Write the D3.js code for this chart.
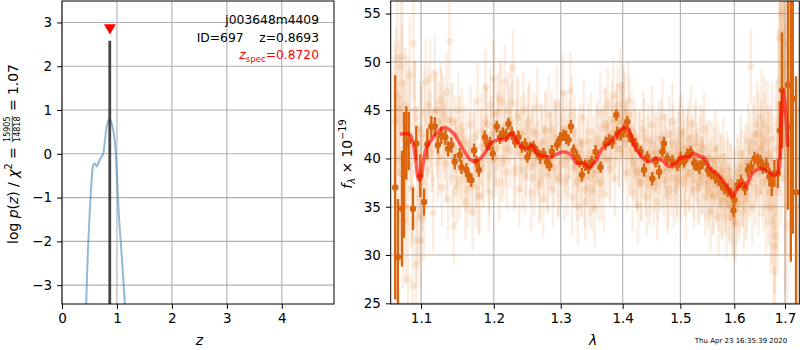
<!DOCTYPE html>
<html>
<head>
<meta charset="utf-8">
<script src="https://cdn.jsdelivr.net/npm/d3@7"></script>
<style>
  body { margin: 0; background: #fff; }
  text { font-family: "DejaVu Sans", sans-serif; white-space: pre; }
</style>
</head>
<body>
<svg id="chart" width="800" height="350"></svg>
<script>
// ---------- data: redshift probability panel ----------
const zTicks = [0, 1, 2, 3, 4];
const logpTicks = [-3, -2, -1, 0, 1, 2, 3];
const pzZ =    [0.40, 0.44, 0.46, 0.48, 0.51, 0.54, 0.57, 0.60, 0.63, 0.66, 0.70, 0.75, 0.78, 0.82, 0.86, 0.89, 0.93, 0.96, 1.00, 1.02, 1.05, 1.085, 1.115, 1.145, 1.17];
const pzLogp = [-4.6, -3.43, -2.6, -2.0, -1.2, -0.6, -0.25, -0.22, -0.29, -0.22, -0.1, 0.0, 0.3, 0.65, 0.80, 0.75, 0.55, 0.30, -0.50, -1.07, -1.7, -2.28, -2.85, -3.43, -3.9];
const zBest = 0.8693;
const zBestTop = 2.58;
const zSpec = 0.8720;
const zSpecMarkY = 2.88;
const labelLines = ["j003648m4409", "ID=697    z=0.8693"];

// ---------- data: spectrum panel ----------
const lamTicks = [1.1, 1.2, 1.3, 1.4, 1.5, 1.6, 1.7];
const fluxTicks = [25, 30, 35, 40, 45, 50, 55];

// best-fit template [lambda, flux]
const modelLine = [
  [1.0726,42.5],[1.0856,42.45],[1.0978,37.75],[1.1075,41.2],[1.1163,42.2],[1.1311,43.2],[1.1434,42.6],
  [1.1549,41.2],[1.1665,39.9],[1.1759,39.75],[1.1852,40.35],[1.1972,41.7],[1.2091,41.95],[1.2188,42.05],
  [1.2262,42.6],[1.2325,41.9],[1.2410,41.2],[1.2485,41.0],[1.2560,41.4],[1.2635,40.5],[1.2735,40.25],
  [1.2838,40.15],[1.2941,40.45],[1.3044,40.7],[1.3148,40.45],[1.3255,39.5],[1.3360,39.55],[1.3439,39.1],
  [1.3548,39.65],[1.3657,41.0],[1.3766,41.55],[1.3876,42.2],[1.3988,43.1],[1.4089,43.1],[1.4183,41.55],
  [1.4328,40.15],[1.4441,39.65],[1.4557,40.0],[1.4676,39.8],[1.4792,39.2],[1.4910,39.5],[1.5031,40.15],
  [1.5150,40.15],[1.5241,40.5],[1.5333,40.25],[1.5425,40.1],[1.5549,38.95],[1.5703,38.25],[1.5863,37.05],
  [1.5970,36.05],[1.6054,36.9],[1.6151,37.4],[1.6214,37.05],[1.6345,38.45],[1.6509,38.95],[1.6642,38.7],
  [1.6774,38.25],[1.6855,38.5],[1.6924,43.95],[1.6965,47.05],[1.7010,45.0],[1.7058,41.2]
];

// binned spectrum [lambda, flux, error]
const binned = [
  [1.0665,37.0,11.6],[1.0700,29.8,6.0],[1.0752,34.8,6.0],[1.0778,38.3,6.5],[1.0808,41.6,3.8],[1.0839,41.8,3.0],
  [1.0895,34.8,2.2],[1.0938,41.55,1.8],[1.0990,38.2,2.2],[1.1040,35.5,1.4],[1.1083,41.5,1.6],[1.1136,43.3,1.1],
  [1.1182,43.3,1.0],[1.1225,41.4,0.9],[1.1270,42.4,0.9],[1.1325,42.2,0.8],[1.1361,41.0,0.8],[1.1406,41.4,0.8],
  [1.1452,39.65,0.8],[1.1521,40.35,0.7],[1.1544,39.1,0.7],[1.1613,38.8,0.7],[1.1637,38.3,0.8],[1.1682,37.75,0.7],
  [1.1721,40.85,0.7],[1.1753,39.65,0.6],[1.1787,38.8,0.7],[1.1872,42.2,0.7],[1.1909,41.4,0.6],[1.1945,41.55,0.7],
  [1.1985,40.5,0.7],[1.2043,43.3,0.6],[1.2091,42.2,0.7],[1.2130,42.6,0.6],[1.2179,42.4,0.7],[1.2212,43.6,0.6],
  [1.2262,42.6,0.7],[1.2311,41.7,0.6],[1.2359,42.2,0.7],[1.2410,41.2,0.6],[1.2458,41.4,0.7],[1.2493,40.15,0.6],
  [1.2533,41.0,0.7],[1.2583,41.2,0.6],[1.2635,40.7,0.6],[1.2685,40.15,0.7],[1.2735,40.5,0.6],[1.2787,39.65,0.7],
  [1.2826,39.3,0.6],[1.2863,40.7,0.7],[1.2941,41.4,0.6],[1.2992,42.05,0.7],[1.3044,42.4,0.6],[1.3085,42.2,0.7],
  [1.3122,41.9,0.6],[1.3160,43.3,0.7],[1.3201,40.85,0.6],[1.3255,40.15,0.7],[1.3296,39.65,0.6],[1.3334,38.3,0.7],
  [1.3387,39.3,0.6],[1.3439,39.1,0.7],[1.3494,39.65,0.6],[1.3553,40.7,0.7],[1.3634,39.1,0.6],[1.3716,41.55,0.7],
  [1.3772,41.9,0.6],[1.3826,41.7,0.7],[1.3893,44.5,0.6],[1.3910,42.6,0.7],[1.3965,42.4,0.6],[1.4021,42.9,0.7],
  [1.4077,43.8,0.6],[1.4106,42.4,0.7],[1.4162,41.9,0.6],[1.4218,41.4,0.7],[1.4303,40.7,0.6],[1.4362,38.8,0.7],
  [1.4418,40.15,0.6],[1.4505,37.9,0.7],[1.4563,39.65,0.6],[1.4623,38.6,0.7],[1.4680,40.7,0.6],[1.4709,41.55,0.7],
  [1.4768,40.0,0.6],[1.4857,39.65,0.7],[1.4947,39.3,0.6],[1.5005,40.0,0.7],[1.5067,39.65,0.6],[1.5127,40.35,0.7],
  [1.5186,40.7,0.6],[1.5248,39.5,0.7],[1.5285,39.3,0.6],[1.5345,39.1,0.7],[1.5406,39.5,0.6],[1.5499,38.8,0.7],
  [1.5561,38.45,0.6],[1.5636,38.1,0.7],[1.5699,37.75,0.6],[1.5749,37.4,0.7],[1.5812,36.9,0.6],[1.5874,36.7,0.7],
  [1.5939,36.4,0.6],[1.5985,34.6,0.7],[1.6001,35.7,0.7],[1.6065,37.25,0.6],[1.6131,37.6,0.7],[1.6209,36.9,0.7],
  [1.6260,38.8,0.7],[1.6325,39.1,0.7],[1.6390,40.0,0.7],[1.6454,39.8,0.7],[1.6509,39.65,0.7],[1.6553,39.1,0.7],
  [1.6621,39.3,0.8],[1.6686,38.1,1.0],[1.6733,37.4,1.3],[1.6786,38.45,1.4],[1.6854,38.45,1.5],[1.6895,42.9,3.0],
  [1.6939,47.05,6.0],[1.7058,47.6,12.9],[1.7118,43.3,14.0],[1.7159,46.2,14.0],[1.7226,36.5,12.0]
];

// individual unbinned pixels, first exposure [lambda, flux, error]
const pixelsA = [
  [1.066,44.0,8],[1.069,50.4,7],[1.071,45.2,7],[1.073,38.5,8],[1.075,47.8,6],[1.076,50.5,7],[1.078,41.0,7],
  [1.080,35.0,8],[1.082,44.5,6],[1.083,27.5,7],[1.085,48.6,6],[1.087,36.8,6],[1.089,26.8,7],[1.090,51.9,6],
  [1.092,44.2,6],[1.093,29.0,5],[1.095,40.5,5],[1.097,34.0,5],[1.099,43.0,5],[1.100,31.5,5],[1.102,37.5,5],
  [1.104,44.8,4.5],[1.106,47.9,4.5],[1.108,38.7,4],[1.110,42.0,4],[1.112,48.2,4],[1.114,40.5,4],[1.116,34.4,4],
  [1.118,48.8,4],[1.120,45.0,4],[1.122,39.5,4],[1.124,43.8,4],[1.126,46.0,4],[1.128,37.0,4],[1.130,44.5,4],
  [1.132,41.8,4],[1.134,46.9,4],[1.136,35.8,4],[1.138,52.1,4],[1.140,44.0,4],[1.142,38.0,4],[1.144,33.0,4],
  [1.146,42.5,4],[1.148,40.2,4],[1.150,45.0,4],[1.152,37.8,4],[1.155,43.2,4],[1.157,39.0,4],[1.160,35.5,4],
  [1.162,41.5,4],[1.165,38.2,4],[1.167,43.5,4],[1.170,34.5,4],[1.172,40.8,4],[1.175,37.0,4],[1.177,46.0,4],
  [1.180,36.2,4],[1.183,42.8,4],[1.185,38.9,4],[1.188,47.3,4],[1.190,43.5,4],[1.193,36.5,4],[1.195,45.5,4],
  [1.198,39.8,4],[1.200,48.3,4],[1.203,41.0,4],[1.206,44.8,4],[1.208,37.5,4],[1.211,45.8,4],[1.214,40.0,4],
  [1.216,47.9,4],[1.219,38.6,4],[1.222,43.5,4],[1.225,45.8,4],[1.228,49.4,4],[1.231,39.0,4],[1.234,44.6,4],
  [1.237,36.8,4],[1.240,42.5,4],[1.243,45.0,4],[1.246,38.2,4],[1.249,41.8,4],[1.252,44.0,4],[1.255,36.5,4],
  [1.258,42.8,4],[1.261,39.5,4],[1.264,45.3,4],[1.267,37.2,4],[1.270,41.5,4],[1.273,35.8,4],[1.276,43.0,4],
  [1.279,38.5,4],[1.282,44.5,4],[1.285,40.2,4],[1.288,36.8,4],[1.291,42.2,4],[1.294,45.6,4],[1.297,38.0,4],
  [1.300,41.3,4],[1.303,46.8,4],[1.306,37.5,4],[1.309,43.0,4],[1.312,40.0,4],[1.315,47.0,4],[1.318,36.0,4],
  [1.321,42.6,4],[1.324,39.2,4],[1.327,35.0,4],[1.330,41.8,4],[1.333,37.8,4],[1.336,44.2,4],[1.339,35.5,4],
  [1.342,40.0,4],[1.345,37.0,4],[1.348,42.8,4],[1.351,38.5,4],[1.354,34.8,4],[1.357,41.5,4],[1.360,37.5,4],
  [1.363,44.8,4],[1.366,40.5,4],[1.369,36.3,4],[1.372,43.2,4],[1.375,45.5,4],[1.378,39.8,4],[1.381,42.4,4],
  [1.384,46.5,4],[1.387,38.0,4],[1.390,43.8,4],[1.393,41.0,4],[1.396,47.5,4],[1.399,44.0,4],[1.402,45.6,4],
  [1.405,41.5,4],[1.408,38.5,4],[1.411,44.5,4],[1.414,40.8,4],[1.417,36.5,4],[1.420,42.0,4],[1.423,38.8,4],
  [1.426,35.2,4],[1.429,41.0,4],[1.432,37.5,4],[1.435,43.0,4],[1.438,39.0,4],[1.441,36.0,4],[1.444,41.8,4],
  [1.447,38.2,4],[1.450,43.5,4],[1.453,37.0,4],[1.456,40.5,4],[1.459,35.5,4],[1.462,42.0,4],[1.465,38.5,4],
  [1.468,44.3,4],[1.471,37.8,4],[1.474,40.5,4],[1.477,36.2,4],[1.480,42.5,4],[1.483,39.0,4],[1.486,43.8,4],
  [1.489,36.8,4],[1.492,40.2,4],[1.495,38.0,4],[1.498,41.8,4],[1.501,37.5,4],[1.504,42.8,4],[1.507,39.8,4],
  [1.510,35.5,4],[1.513,41.2,4],[1.516,38.5,4],[1.519,43.6,4],[1.522,40.0,4],[1.525,36.8,4],[1.528,42.2,4],
  [1.531,39.0,4],[1.534,37.5,4],[1.537,41.5,4],[1.540,38.2,4],[1.543,43.0,4],[1.546,36.0,4],[1.549,40.0,4],
  [1.552,37.5,4],[1.555,34.5,4],[1.558,39.8,4],[1.561,36.2,4],[1.564,41.0,4],[1.567,37.5,4],[1.570,34.0,4],
  [1.573,38.8,4],[1.576,35.5,4],[1.579,40.2,4],[1.582,36.5,4],[1.585,33.8,4],[1.588,38.0,4],[1.591,35.2,4],
  [1.594,37.5,4],[1.597,34.0,4],[1.600,36.8,4],[1.603,33.2,4],[1.606,38.5,4],[1.609,35.5,4],[1.612,40.5,4],
  [1.615,37.0,4],[1.618,34.5,4],[1.621,39.5,4],[1.624,36.2,4],[1.627,41.8,4],[1.630,38.0,4],[1.632,49.5,4],
  [1.635,35.0,4],[1.638,42.5,4],[1.641,39.0,4],[1.644,43.5,4.5],[1.647,36.5,4.5],[1.650,40.8,4.5],[1.653,44.2,5],
  [1.656,37.5,5],[1.659,41.8,5],[1.662,35.0,5],[1.665,43.0,5],[1.668,39.5,5.5],[1.671,33.5,5.5],[1.674,42.0,6],
  [1.677,30.9,6],[1.680,28.4,6],[1.683,37.0,7],[1.686,45.5,8],[1.689,52.5,10],[1.692,55.0,12],[1.695,49.5,12],
  [1.698,52.0,12],[1.701,42.0,12],[1.704,33.0,10],[1.707,56.5,12]
];

// individual unbinned pixels, second exposure [lambda, flux, error]
const pixelsB = [
  [1.0675,46.5,7],[1.0705,40.0,7],[1.0735,49.5,7],[1.0765,33.5,7],[1.0795,45.5,6],[1.0825,39.0,6],[1.0855,43.5,6],
  [1.0885,37.0,6],[1.0915,45.0,5],[1.0945,31.5,5],[1.0975,38.5,5],[1.1005,42.5,5],[1.1035,33.8,4.5],[1.1065,40.0,4.5],
  [1.1095,45.5,4],[1.1125,43.0,4],[1.1155,41.0,4],[1.1185,44.8,4],[1.1215,42.0,4],[1.1245,40.2,4],[1.1275,45.2,4],
  [1.1305,42.8,4],[1.1335,39.5,4],[1.1365,44.0,4],[1.1395,41.2,4],[1.1425,43.8,4],[1.1455,40.0,4],[1.1485,37.2,4],
  [1.1515,42.5,4],[1.1545,39.8,4],[1.1575,41.8,4],[1.1605,38.5,4],[1.1635,36.8,4],[1.1665,40.8,4],[1.1695,38.0,4],
  [1.1725,42.2,4],[1.1755,39.0,4],[1.1785,36.0,4],[1.1815,41.2,4],[1.1845,39.5,4],[1.1875,43.8,4],[1.1905,40.5,4],
  [1.1935,38.2,4],[1.1965,42.5,4],[1.1995,44.5,4],[1.2025,40.0,4],[1.2055,42.8,4],[1.2085,46.2,4],[1.2115,39.5,4],
  [1.2145,43.2,4],[1.2175,41.0,4],[1.2205,45.0,4],[1.2235,40.8,4],[1.2265,43.8,4],[1.2295,38.5,4],[1.2325,42.0,4],
  [1.2355,44.2,4],[1.2385,40.5,4],[1.2415,38.8,4],[1.2445,42.8,4],[1.2475,40.0,4],[1.2505,43.5,4],[1.2535,39.2,4],
  [1.2565,41.5,4],[1.2595,38.0,4],[1.2625,42.5,4],[1.2655,40.0,4],[1.2685,37.5,4],[1.2715,41.8,4],[1.2745,39.5,4],
  [1.2775,42.8,4],[1.2805,38.2,4],[1.2835,40.8,4],[1.2865,43.0,4],[1.2895,39.0,4],[1.2925,41.5,4],[1.2955,37.8,4],
  [1.2985,42.2,4],[1.3015,39.5,4],[1.3045,43.0,4],[1.3075,40.2,4],[1.3105,38.0,4],[1.3135,42.0,4],[1.3165,44.5,4],
  [1.3195,39.0,4],[1.3225,41.2,4],[1.3255,37.5,4],[1.3285,40.5,4],[1.3315,38.0,4],[1.3345,41.5,4],[1.3375,36.8,4],
  [1.3405,39.2,4],[1.3435,41.8,4],[1.3465,38.0,4],[1.3495,36.5,4],[1.3525,40.5,4],[1.3555,38.8,4],[1.3585,42.0,4],
  [1.3615,39.5,4],[1.3645,37.5,4],[1.3675,41.5,4],[1.3705,43.5,4],[1.3735,40.0,4],[1.3765,42.2,4],[1.3795,39.0,4],
  [1.3825,44.0,4],[1.3855,41.5,4],[1.3885,43.0,4],[1.3915,45.5,4],[1.3945,41.0,4],[1.3975,43.5,4],[1.4005,40.5,4],
  [1.4035,44.8,4],[1.4065,42.0,4],[1.4095,46.0,4],[1.4125,40.0,4],[1.4155,42.8,4],[1.4185,39.5,4],[1.4215,41.2,4],
  [1.4245,38.5,4],[1.4275,40.8,4],[1.4305,37.5,4],[1.4335,40.0,4],[1.4365,42.2,4],[1.4395,38.0,4],[1.4425,40.5,4],
  [1.4455,37.2,4],[1.4485,39.8,4],[1.4515,41.5,4],[1.4545,38.5,4],[1.4575,40.8,4],[1.4605,37.5,4],[1.4635,40.2,4],
  [1.4665,42.0,4],[1.4695,38.8,4],[1.4725,41.0,4],[1.4755,39.0,4],[1.4785,36.8,4],[1.4815,40.2,4],[1.4845,38.0,4],
  [1.4875,41.5,4],[1.4905,39.2,4],[1.4935,37.5,4],[1.4965,40.8,4],[1.4995,42.5,4],[1.5025,39.0,4],[1.5055,41.0,4],
  [1.5085,38.0,4],[1.5115,40.5,4],[1.5145,42.0,4],[1.5175,38.5,4],[1.5205,40.2,4],[1.5235,37.8,4],[1.5265,41.5,4],
  [1.5295,39.5,4],[1.5325,37.0,4],[1.5355,40.5,4],[1.5385,38.2,4],[1.5415,41.0,4],[1.5445,37.5,4],[1.5475,39.5,4],
  [1.5505,36.8,4],[1.5535,40.0,4],[1.5565,38.0,4],[1.5595,36.0,4],[1.5625,39.2,4],[1.5655,37.2,4],[1.5685,39.8,4],
  [1.5715,36.5,4],[1.5745,38.5,4],[1.5775,35.8,4],[1.5805,38.0,4],[1.5835,36.0,4],[1.5865,38.8,4],[1.5895,35.5,4],
  [1.5925,37.5,4],[1.5955,35.0,4],[1.5985,33.5,4],[1.6015,37.0,4],[1.6045,35.2,4],[1.6075,38.0,4],[1.6105,36.2,4],
  [1.6135,39.0,4],[1.6165,36.8,4],[1.6195,38.5,4],[1.6225,35.5,4],[1.6255,39.5,4],[1.6285,37.5,4],[1.6315,40.8,4],
  [1.6345,38.5,4],[1.6375,41.5,4],[1.6405,37.0,4],[1.6435,40.0,4.5],[1.6465,42.5,4.5],[1.6495,38.5,4.5],[1.6525,41.2,5],
  [1.6555,39.0,5],[1.6585,43.5,5],[1.6615,37.8,5],[1.6645,40.5,5],[1.6675,36.5,5.5],[1.6705,40.0,5.5],[1.6735,35.0,6],
  [1.6765,38.5,6],[1.6795,32.0,6],[1.6825,41.0,7],[1.6855,36.5,8],[1.6885,48.0,10],[1.6915,45.0,12],[1.6945,53.0,12],
  [1.6975,47.0,12],[1.7005,38.0,12]
];
const timestamp = "Thu Apr 23 16:35:39 2020";

// ---------- drawing ----------
const svg = d3.select("#chart");
const TICK_FS = 13.5, TICK_LEN = 4.9, GRID = "#b0b0b0";
const SPEC_DARK = "#d9650f", SPEC_FAINT = "#e07a2a";

function axisStyle(g) {
  g.select(".domain").remove();
  g.selectAll(".tick line").attr("stroke", "#000").attr("stroke-width", 1);
  g.selectAll(".tick text").attr("font-size", TICK_FS).attr("font-family", "DejaVu Sans, sans-serif").attr("fill", "#000");
}

// lays out a row of text pieces (with optional fraction) starting at x=0 and returns its width
function mathRow(g, parts, fs) {
  let x = 0;
  parts.forEach(p => {
    if (p.frac) {
      const ffs = 8;
      const n = g.append("text").attr("font-size", ffs).attr("y", -7.2).text(p.frac[0]);
      const d = g.append("text").attr("font-size", ffs).attr("y", 2.3).text(p.frac[1]);
      const w = Math.max(n.node().getComputedTextLength(), d.node().getComputedTextLength()) + 2;
      n.attr("x", x + w / 2).attr("text-anchor", "middle");
      d.attr("x", x + w / 2).attr("text-anchor", "middle");
      g.append("line").attr("x1", x + 0.5).attr("x2", x + w - 0.5).attr("y1", -5.2).attr("y2", -5.2)
        .attr("stroke", "#000").attr("stroke-width", 0.7);
      x += w;
    } else {
      const size = p.sub || p.sup ? fs * 0.7 : fs;
      const dy = p.sub ? 3 : p.sup ? -5.5 : 0;
      const t = g.append("text").attr("x", x).attr("y", dy).attr("font-size", size)
        .attr("font-style", p.it ? "italic" : "normal").text(p.t);
      x += t.node().getComputedTextLength();
    }
  });
  return x;
}

// ===== left panel: p(z) =====
const L = { x0: 62, x1: 334, y0: 1, y1: 304 };
const xZ = d3.scaleLinear().domain([0, 4.95]).range([L.x0, L.x1]);
const yP = d3.scaleLinear().domain([-3.43, 3.49]).range([L.y1, L.y0]);

const gl = svg.append("g");
gl.append("g").selectAll("line").data(zTicks).join("line")
  .attr("x1", d => xZ(d)).attr("x2", d => xZ(d)).attr("y1", L.y0).attr("y2", L.y1)
  .attr("stroke", GRID).attr("stroke-width", 1.1);
gl.append("g").selectAll("line").data(logpTicks).join("line")
  .attr("x1", L.x0).attr("x2", L.x1).attr("y1", d => yP(d)).attr("y2", d => yP(d))
  .attr("stroke", GRID).attr("stroke-width", 1.1);

const clipL = svg.append("clipPath").attr("id", "clipL");
clipL.append("rect").attr("x", L.x0).attr("y", L.y0).attr("width", L.x1 - L.x0).attr("height", L.y1 - L.y0);
const dl = gl.append("g").attr("clip-path", "url(#clipL)");

dl.append("path")
  .datum(pzZ.map((z, i) => [z, pzLogp[i]]))
  .attr("fill", "none").attr("stroke", "#1f77b4").attr("stroke-opacity", 0.5).attr("stroke-width", 2)
  .attr("d", d3.line().x(d => xZ(d[0])).y(d => yP(d[1])).curve(d3.curveCatmullRom));

dl.append("line")
  .attr("x1", xZ(zBest)).attr("x2", xZ(zBest)).attr("y1", yP(zBestTop)).attr("y2", yP(-3.43))
  .attr("stroke", "#333").attr("stroke-width", 2.8).attr("stroke-opacity", 0.9);

dl.append("path")
  .attr("d", d3.symbol(d3.symbolTriangle, 60)())
  .attr("transform", `translate(${xZ(zSpec)},${yP(zSpecMarkY)}) rotate(180)`)
  .attr("fill", "red");

gl.append("g").attr("transform", `translate(0,${L.y1})`)
  .call(d3.axisBottom(xZ).tickValues(zTicks).tickSize(TICK_LEN).tickPadding(4.9).tickFormat(d3.format("d")))
  .call(axisStyle);
gl.append("g").attr("transform", `translate(${L.x0},0)`)
  .call(d3.axisLeft(yP).tickValues(logpTicks).tickSize(TICK_LEN).tickPadding(4.9).tickFormat(d3.format("d")))
  .call(axisStyle);

gl.append("rect").attr("x", L.x0).attr("y", L.y0).attr("width", L.x1 - L.x0).attr("height", L.y1 - L.y0)
  .attr("fill", "none").attr("stroke", "#000").attr("stroke-width", 1);

// annotation in upper right corner
labelLines.forEach((s, i) => {
  gl.append("text").attr("x", 319).attr("y", 24 + i * 17.5).attr("text-anchor", "end")
    .attr("font-size", 12.3).text(s);
});
{
  const t = gl.append("text").attr("x", 319).attr("y", 59).attr("text-anchor", "end")
    .attr("font-size", 12.3).attr("fill", "red");
  t.append("tspan").attr("font-style", "italic").text("z");
  t.append("tspan").attr("font-size", 8.6).attr("dy", 2.5).text("spec");
  t.append("tspan").attr("dy", -2.5).text("=0.8720");
}

gl.append("text").attr("x", xZ(2.5)).attr("y", 345).attr("text-anchor", "middle")
  .attr("font-size", 13.9).attr("font-style", "italic").text("z");

{
  const g = gl.append("g").attr("transform", "translate(17.5,154) rotate(-90)");
  const inner = g.append("g");
  const w = mathRow(inner, [
    { t: "log " }, { t: "p", it: true }, { t: "(" }, { t: "z", it: true }, { t: ") / " },
    { t: "χ", it: true }, { t: "2", sup: true }, { t: " = " },
    { frac: ["15905", "14818"] }, { t: " = 1.07" }
  ], 13.9);
  inner.attr("transform", `translate(${-w / 2},0)`);
}

// ===== right panel: spectrum =====
const R = { x0: 390.7, x1: 799.3, y0: 1, y1: 304 };
const xL = d3.scaleLog().domain([1.0608, 1.7293]).range([R.x0, R.x1]);
const yF = d3.scaleLinear().domain([24.93, 56.3]).range([R.y1, R.y0]);

const gr = svg.append("g");
gr.append("g").selectAll("line").data(lamTicks).join("line")
  .attr("x1", d => xL(d)).attr("x2", d => xL(d)).attr("y1", R.y0).attr("y2", R.y1)
  .attr("stroke", GRID).attr("stroke-width", 1.1);
gr.append("g").selectAll("line").data(fluxTicks).join("line")
  .attr("x1", R.x0).attr("x2", R.x1).attr("y1", d => yF(d)).attr("y2", d => yF(d))
  .attr("stroke", GRID).attr("stroke-width", 1.1);

const clipR = svg.append("clipPath").attr("id", "clipR");
clipR.append("rect").attr("x", R.x0).attr("y", R.y0).attr("width", R.x1 - R.x0).attr("height", R.y1 - R.y0);
const dr = gr.append("g").attr("clip-path", "url(#clipR)");

// unbinned pixels from both exposures
[pixelsA, pixelsB].forEach(set => {
  const gp = dr.append("g");
  gp.selectAll("line").data(set).join("line")
    .attr("x1", d => xL(d[0])).attr("x2", d => xL(d[0]))
    .attr("y1", d => yF(d[1] - d[2])).attr("y2", d => yF(d[1] + d[2]))
    .attr("stroke", SPEC_FAINT).attr("stroke-opacity", 0.13).attr("stroke-width", 2.6);
  gp.selectAll("circle").data(set).join("circle")
    .attr("cx", d => xL(d[0])).attr("cy", d => yF(d[1])).attr("r", 3.6)
    .attr("fill", SPEC_FAINT).attr("fill-opacity", 0.13);
});

// binned spectrum
const gb = dr.append("g");
gb.selectAll("line").data(binned).join("line")
  .attr("x1", d => xL(d[0])).attr("x2", d => xL(d[0]))
  .attr("y1", d => yF(d[1] - d[2])).attr("y2", d => yF(d[1] + d[2]))
  .attr("stroke", SPEC_DARK).attr("stroke-width", 2.4);
gb.selectAll("circle").data(binned).join("circle")
  .attr("cx", d => xL(d[0])).attr("cy", d => yF(d[1])).attr("r", 3.2)
  .attr("fill", SPEC_DARK);

// template
dr.append("path").datum(modelLine)
  .attr("fill", "none").attr("stroke", "red").attr("stroke-opacity", 0.6).attr("stroke-width", 3.6)
  .attr("stroke-linejoin", "round")
  .attr("d", d3.line().x(d => xL(d[0])).y(d => yF(d[1])).curve(d3.curveCatmullRom));

gr.append("g").attr("transform", `translate(0,${R.y1})`)
  .call(d3.axisBottom(xL).tickValues(lamTicks).tickSize(TICK_LEN).tickPadding(4.9).tickFormat(d3.format(".1f")))
  .call(axisStyle);
gr.append("g").attr("transform", `translate(${R.x0},0)`)
  .call(d3.axisLeft(yF).tickValues(fluxTicks).tickSize(TICK_LEN).tickPadding(4.9).tickFormat(d3.format("d")))
  .call(axisStyle);

gr.append("rect").attr("x", R.x0).attr("y", R.y0).attr("width", R.x1 - R.x0).attr("height", R.y1 - R.y0)
  .attr("fill", "none").attr("stroke", "#000").attr("stroke-width", 1);

gr.append("text").attr("x", 593).attr("y", 345).attr("text-anchor", "middle")
  .attr("font-size", 13.9).attr("font-style", "italic").text("λ");

{
  const g = gr.append("g").attr("transform", "translate(351.5,154) rotate(-90)");
  const inner = g.append("g");
  const w = mathRow(inner, [
    { t: "f", it: true }, { t: "λ", sub: true, it: true }, { t: " × 10" }, { t: "−19", sup: true }
  ], 13.9);
  inner.attr("transform", `translate(${-w / 2},0)`);
}

svg.append("text").attr("x", 741).attr("y", 342.5).attr("text-anchor", "middle")
  .attr("font-size", 7).text(timestamp);
</script>
</body>
</html>
